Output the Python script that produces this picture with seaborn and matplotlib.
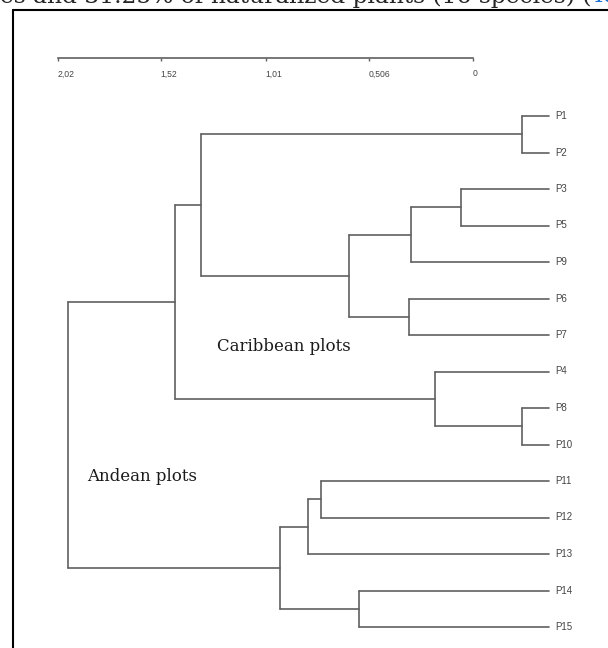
import pandas as pd
import matplotlib
matplotlib.use("Agg")
import matplotlib.pyplot as plt
import seaborn as sns

# leaf order from top to bottom
leaves = ["P1", "P2", "P3", "P5", "P9", "P6", "P7", "P4", "P8", "P10",
          "P11", "P12", "P13", "P14", "P15"]

# linkage: leaves are 0..14, each merge creates node 15, 16, ...
merge_a = [0, 2, 16, 5, 17, 15, 8, 7, 20, 10, 24, 13, 25, 23]
merge_b = [1, 3, 4, 6, 18, 19, 9, 21, 22, 11, 12, 14, 26, 27]
merge_height = [0.113, 0.369, 0.580, 0.586, 0.838, 1.462, 0.115, 0.478,
                1.568, 0.958, 1.013, 0.797, 1.129, 2.02]

scale_ticks = [2.02, 1.52, 1.01, 0.506, 0]
scale_labels = ["2,02", "1,52", "1,01", "0,506", "0"]

group_names = ["Caribbean plots", "Andean plots"]
group_h = [1.394, 1.940]
group_y = [6.32, 9.89]

# --------------------------------
# build the dendrogram segments
# --------------------------------
node_y = {i: float(i) for i in range(len(leaves))}
node_h = {i: 0.0 for i in range(len(leaves))}
rows = []
seg = 0
for k, (a, b, h) in enumerate(zip(merge_a, merge_b, merge_height)):
    new = len(leaves) + k
    # vertical joining line
    rows += [(seg, h, node_y[a]), (seg, h, node_y[b])]
    seg += 1
    # horizontal branches to the children
    for c in (a, b):
        rows += [(seg, node_h[c], node_y[c]), (seg, h, node_y[c])]
        seg += 1
    node_y[new] = (node_y[a] + node_y[b]) / 2
    node_h[new] = h

df = pd.DataFrame(rows, columns=["seg", "dist", "pos"])

sns.set_style("white")

W, H = 608, 648
fig = plt.figure(figsize=(W / 100, H / 100), dpi=100)
ax = fig.add_axes([0, 0, 1, 1])

sns.lineplot(data=df, x="dist", y="pos", units="seg", estimator=None,
             sort=False, color="#606060", linewidth=1.2, ax=ax)

# map: leaf tips at x=549px, root at x=68px; first leaf y=116px, step 36.5px
k = (549 - 67.7) / 2.02
ax.set_xlim(549 / k, (549 - W) / k)
ax.set_ylim((H - 116) / 36.5, -116 / 36.5)
ax.set_axis_off()

for i, name in enumerate(leaves):
    ax.text(-0.025, i, name, fontsize=7, color="#444444",
            family="Liberation Sans", va="center", ha="left")

for name, h, y in zip(group_names, group_h, group_y):
    ax.text(h, y, name, fontsize=12, color="#1a1a1a",
            family="DejaVu Serif", va="center", ha="left")

# -----------------
# scale bar on top
# -----------------
ax2 = fig.add_axes([58 / W, 1 - 58.3 / H, 415 / W, 0.0001])
ax2.set_xlim(2.02, 0)
ax2.set_xticks(scale_ticks)
ax2.set_xticklabels(scale_labels, fontsize=6.2, color="#444444",
                    family="Liberation Sans", ha="left")
ax2.set_yticks([])
ax2.patch.set_alpha(0)
for s in ["top", "left", "right"]:
    ax2.spines[s].set_visible(False)
ax2.spines["bottom"].set_color("#606060")
ax2.spines["bottom"].set_linewidth(1.2)
ax2.tick_params(axis="x", direction="out", length=2.5, width=1.0,
                color="#606060", pad=5.5, bottom=True)

# frame of the figure box and the cut-off caption line above it
fig.add_artist(plt.Line2D([12.5 / W, 12.5 / W], [0, 1 - 10 / H],
                          color="black", linewidth=1.5))
fig.add_artist(plt.Line2D([12.5 / W, 1], [1 - 10 / H, 1 - 10 / H],
                          color="black", linewidth=1.5))
fig.text(0, 1 - 2.5 / H, "es and 31.25% of naturalized plants (16 species) (",
         fontsize=16.8, family="DejaVu Serif", va="baseline", ha="left")
fig.text(591 / W, 1 - 2.5 / H, "Ta", fontsize=16.8, family="DejaVu Serif",
         color="#1a6fd1", va="baseline", ha="left")

fig.savefig("out.png", dpi=100)
